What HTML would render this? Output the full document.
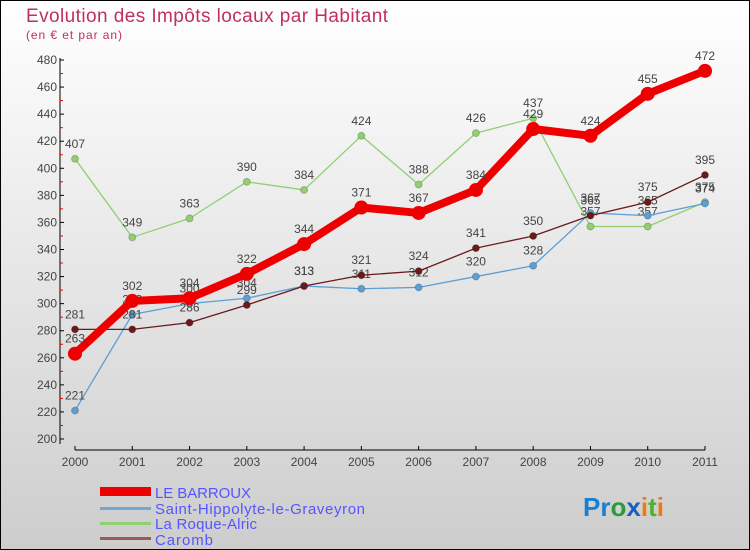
<!DOCTYPE html>
<html><head><meta charset="utf-8"><style>
body{margin:0;width:750px;height:550px;overflow:hidden}
svg{display:block;font-family:"Liberation Sans",sans-serif}
</style></head><body>
<svg id="c" width="750" height="550">
<defs><linearGradient id="bg" x1="0" y1="0" x2="0" y2="1"><stop offset="0" stop-color="#ffffff"/><stop offset="1" stop-color="#cdcdcd"/></linearGradient></defs>
<rect x="0.5" y="0.5" width="749" height="549" fill="url(#bg)" stroke="#000"/>
<text x="26" y="22" font-size="19" fill="#c0305a" textLength="362">Evolution des Impôts locaux par Habitant</text>
<text x="26" y="39" font-size="12" fill="#c0305a" textLength="96">(en € et par an)</text>
<g id="axes"></g><g id="series"></g>
<g>
<rect x="100" y="487" width="51" height="9" fill="#e00"/>
<text x="155" y="498" font-size="15" fill="#5555ff" textLength="96">LE BARROUX</text>
<rect x="100" y="507" width="51" height="3" fill="#6fa7d6"/>
<text x="155" y="514" font-size="15" fill="#5555ff" textLength="210">Saint-Hippolyte-le-Graveyron</text>
<rect x="100" y="522" width="51" height="3" fill="#90d070"/>
<text x="155" y="529" font-size="15" fill="#5555ff" textLength="102">La Roque-Alric</text>
<rect x="100" y="537" width="51" height="3" fill="#9a5a5a"/>
<text x="155" y="545" font-size="15" fill="#5555ff" textLength="58">Caromb</text>
</g>
<g font-size="26" font-weight="bold">
<text x="583" y="516"><tspan fill="#1a7fd0">Pr</tspan><tspan fill="#2a9a3a">o</tspan><tspan fill="#1a5fc0">x</tspan><tspan fill="#f07a10">i</tspan><tspan fill="#50b030">t</tspan><tspan fill="#f07a10">i</tspan></text>
</g>
</svg>
<script>
const years=["2000","2001","2002","2003","2004","2005","2006","2007","2008","2009","2010","2011"];
const yTicks=[200,220,240,260,280,300,320,340,360,380,400,420,440,460,480];
const barroux=[263,302,304,322,344,371,367,384,429,424,455,472];
const hippolyte=[221,292,300,304,313,311,312,320,328,367,365,374];
const roque=[407,349,363,390,384,424,388,426,437,357,357,375];
const caromb=[281,281,286,299,313,321,324,341,350,365,375,395];
const NS="http://www.w3.org/2000/svg";
function X(i){return 75+i*(630/11);}
function Y(v){return 439-(v-200)*(379/280);}
function mk(t,a,p){const e=document.createElementNS(NS,t);for(const k in a)e.setAttribute(k,a[k]);p.appendChild(e);return e;}
const ax=document.getElementById('axes');
let l=mk('line',{x1:60,y1:58,x2:60,y2:444,stroke:'#000'},ax);


yTicks.forEach(v=>{mk('line',{x1:60,y1:Y(v),x2:64,y2:Y(v),stroke:'#000'},ax);
 if(v<480)mk('line',{x1:60,y1:Y(v+10),x2:63,y2:Y(v+10),stroke:'#e00'},ax);
 const t=mk('text',{x:57,y:Y(v)+4,'font-size':12,fill:'#444','text-anchor':'end'},ax);t.textContent=v;
 
 });
l=mk('line',{x1:75,y1:450,x2:705,y2:450,stroke:'#000'},ax);


years.forEach((y,i)=>{mk('line',{x1:X(i),y1:446,x2:X(i),y2:450,stroke:'#000'},ax);
 const t=mk('text',{x:X(i),y:466,'font-size':12,fill:'#444','text-anchor':'middle'},ax);t.textContent=y;
 
 });
const sg=document.getElementById('series');
function series(vals,color,w,r,name){
 const g=mk('g',{},sg);
 
 
 mk('polyline',{points:vals.map((v,i)=>X(i)+','+Y(v)).join(' '),fill:'none',stroke:color,'stroke-width':w,'stroke-linejoin':'round'},g);
 vals.forEach((v,i)=>{const c=mk('circle',{cx:X(i),cy:Y(v),r:r,fill:color,stroke:r<5?'#0003':'none'},g);
  
  
  const t=mk('text',{x:X(i),y:Y(v)-11,'font-size':12,fill:'#444','text-anchor':'middle'},g);t.textContent=v;
  
  });
}
series(roque,'#90d070',1.3,3.5,'series-la-roque-alric');
series(hippolyte,'#5a9fd6',1.3,3.5,'series-saint-hippolyte');
series(caromb,'#6a1a1a',1.3,3.5,'series-caromb');
series(barroux,'#ee0000',8,7,'series-le-barroux');
</script>
</body></html>
